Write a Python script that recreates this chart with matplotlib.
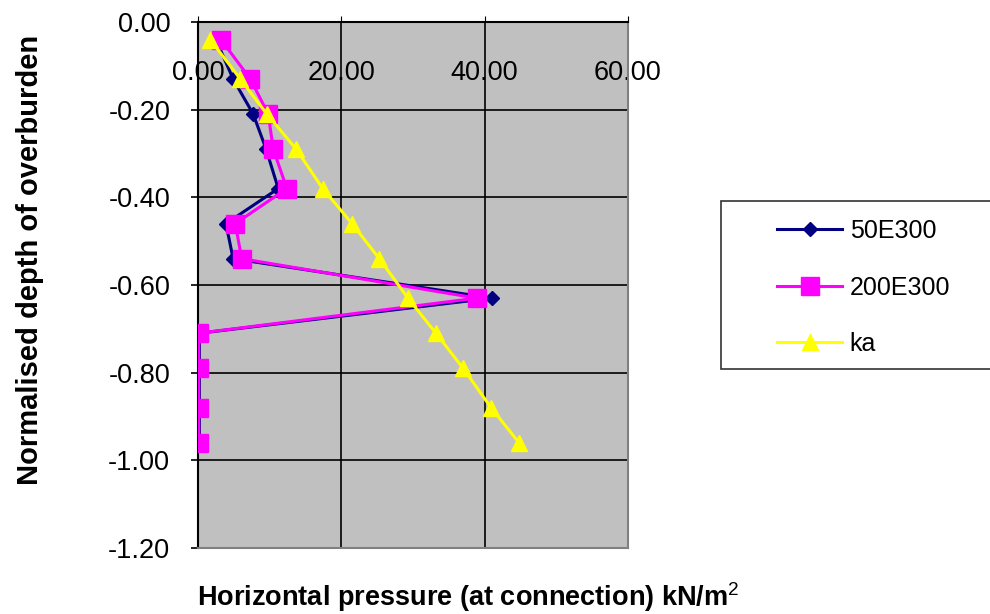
import matplotlib
matplotlib.use('Agg')
import matplotlib.pyplot as plt
from matplotlib.patches import Rectangle
from matplotlib.ticker import FormatStrFormatter

plt.rcParams['font.family'] = ['Liberation Sans', 'DejaVu Sans']
plt.rcParams['mathtext.fontset'] = 'custom'
plt.rcParams['mathtext.rm'] = 'Liberation Sans'

# normalised depth of each connection
depth = [-0.04, -0.13, -0.21, -0.29, -0.38, -0.46, -0.54, -0.63, -0.71, -0.79, -0.88, -0.96]
# horizontal pressure kN/m2
p_50e300 = [2.5, 4.9, 7.7, 9.5, 11.2, 3.9, 4.9, 41.0, 0.2, 0.2, 0.2, 0.2]
p_200e300 = [3.2, 7.3, 9.8, 10.5, 12.4, 5.2, 6.1, 38.9, 0.1, 0.1, 0.1, 0.1]
p_ka = [1.7, 5.9, 9.6, 13.7, 17.4, 21.5, 25.3, 29.3, 33.2, 37.0, 40.9, 44.8]

xticks = [0, 20, 40, 60]
yticks = [0.0, -0.2, -0.4, -0.6, -0.8, -1.0, -1.2]

fig = plt.figure(figsize=(9.9, 6.14), dpi=100)
ax = fig.add_axes([0.2, 0.1075, 0.4343, 0.8567])
ax.set_facecolor('#C0C0C0')

ax.plot(p_50e300, depth, color='#000080', lw=2.2, marker='D', ms=7, label='50E300', zorder=3)
ax.plot(p_200e300, depth, color='#FF00FF', lw=2.2, marker='s', ms=12.5, label='200E300', zorder=4)
ax.plot(p_ka, depth, color='#FFFF00', lw=2.2, marker='^', ms=12, label='ka', zorder=5)

ax.set_xlim(0, 60)
ax.set_ylim(-1.2, 0)
ax.set_xticks(xticks)
ax.set_yticks(yticks)
ax.xaxis.set_major_formatter(FormatStrFormatter('%.2f'))
ax.yaxis.set_major_formatter(FormatStrFormatter('%.2f'))
ax.grid(True, color='black', lw=1.2, zorder=1)
ax.set_axisbelow(True)

for s in ['right', 'bottom']:
    ax.spines[s].set_color('#808080')
    ax.spines[s].set_linewidth(1.5)
for s in ['left', 'top']:
    ax.spines[s].set_linewidth(1.5)

ax.xaxis.tick_top()
ax.tick_params(axis='x', direction='out', length=4, pad=-50, labelsize=19.5)
ax.tick_params(axis='y', direction='out', length=5, width=1.2, pad=15, labelsize=19.5)

ax.xaxis.set_label_position('bottom')
ax.set_xlabel('Horizontal pressure (at connection) kN/m$^{2}$', fontsize=19.5,
              fontweight='bold', va='center')
ax.xaxis.set_label_coords(0.628, -0.093)
ax.set_ylabel('Normalised depth of overburden', fontsize=21, fontweight='bold',
              va='center')
ax.yaxis.set_label_coords(-0.39, 0.548)

# legend box runs off the right edge
fig.patches.append(Rectangle((0.728, 0.399), 0.3, 0.274, transform=fig.transFigure,
                             facecolor='white', edgecolor='#333333', lw=1.2))
fig.legend(loc='upper left', bbox_to_anchor=(0.785, 0.643), frameon=False,
           fontsize=18, handlelength=2.6, handletextpad=0.3, labelspacing=1.3,
           borderpad=0, borderaxespad=0)

fig.savefig('out.png', dpi=100)
